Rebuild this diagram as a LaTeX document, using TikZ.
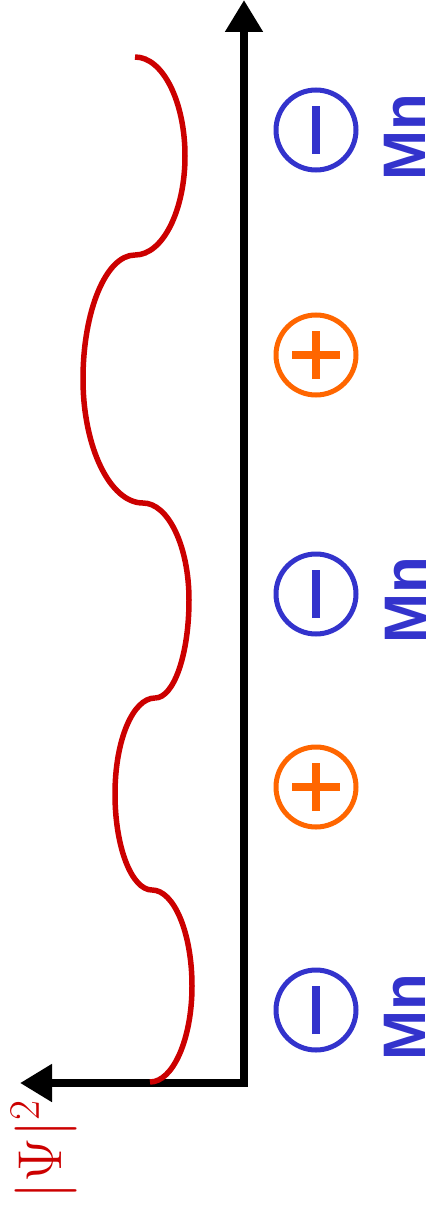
\RequirePackage{fix-cm}
\documentclass[tikz,border=0pt]{standalone}
\usepackage{fontspec}
\newfontfamily\labelfont{Liberation Sans}
\usetikzlibrary{arrows.meta}

\definecolor{mnblue}{HTML}{3333CC}
\definecolor{holeorange}{HTML}{FF6600}
\definecolor{psired}{HTML}{CC0000}

\begin{document}
\begin{tikzpicture}[x=1pt, y=-1pt,
    axis/.style={line width=8pt, line join=miter,
      {Triangle[length=32pt,width=36pt]}-{Triangle[length=32pt,width=36pt]}},
    anion/.style={circle, draw=mnblue, line width=5pt, minimum size=80pt, inner sep=0pt,
      path picture={\draw[mnblue, line width=8pt]
        ([yshift=-24pt]path picture bounding box.center) -- ([yshift=24pt]path picture bounding box.center);}},
    cation/.style={circle, draw=holeorange, line width=5pt, minimum size=80pt, inner sep=0pt,
      path picture={\draw[holeorange, line width=8pt]
        ([yshift=-24pt]path picture bounding box.center) -- ([yshift=24pt]path picture bounding box.center)
        ([xshift=-24pt]path picture bounding box.center) -- ([xshift=24pt]path picture bounding box.center);}},
    mnlabel/.style={text=mnblue, rotate=90, inner sep=0pt, font=\labelfont\bfseries\fontsize{60}{72}\selectfont},
    density/.style={psired, line width=5.5pt}]
  \useasboundingbox (0,0) rectangle (440,1217);

  % axes
  \coordinate (origin) at (244,1083);
  \coordinate (xtip) at (20,1083);
  \coordinate (ytip) at (244,0);
  \draw[axis] (xtip) -- (origin) -- (ytip);
  \node[text=psired, rotate=90, inner sep=0pt, font=\fontsize{62}{74}\selectfont] (psi) at (44,1150) {$|\Psi|^2$};

  % ions along the chain (top to bottom)
  \node[anion] (ion1) at (316,130) {};   \node[mnlabel] (mn1) at (405,137) {Mn};
  \node[cation] (ion2) at (316,355) {};
  \node[anion] (ion3) at (316,594) {};   \node[mnlabel] (mn3) at (406,600) {Mn};
  \node[cation] (ion4) at (316,787) {};
  \node[anion] (ion5) at (316,1010) {};  \node[mnlabel] (mn5) at (405,1017) {Mn};

  % |Psi|^2 along the chain
  \draw[density] (135,57) .. controls (163,57) and (185,102) .. (185,156)
    .. controls (185,210) and (163,255) .. (135,255);
  \draw[density] (135,255) .. controls (106,255) and (83,311) .. (83,379)
    .. controls (83,447) and (110,503) .. (143,503);
  \draw[density] (143,503) .. controls (168,503) and (189,546) .. (189,600)
    .. controls (189,654) and (174,698) .. (155,698);
  \draw[density] (155,698) .. controls (133,698) and (115,740) .. (115,794)
    .. controls (115,848) and (132,890) .. (152,890);
  \draw[density] (152,890) .. controls (174,890) and (192,933) .. (192,986)
    .. controls (192,1039) and (173,1082) .. (150,1082);
\end{tikzpicture}
\end{document}
